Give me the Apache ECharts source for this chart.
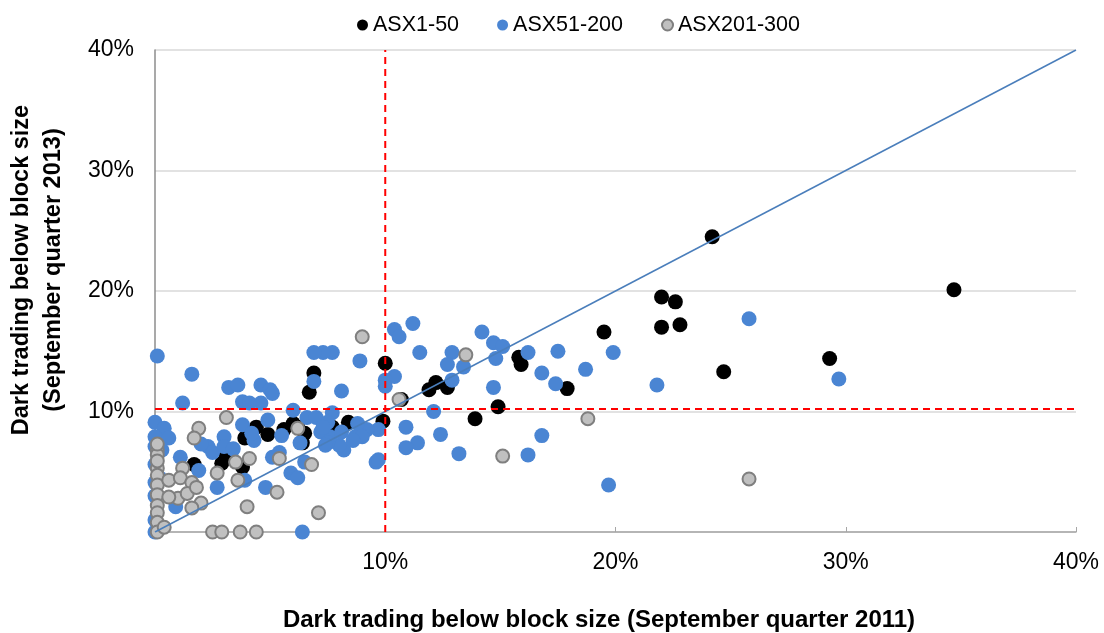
<!DOCTYPE html>
<html>
<head>
<meta charset="utf-8">
<script src="https://cdn.jsdelivr.net/npm/echarts@6/dist/echarts.min.js"></script>
<style>
    html, body { margin: 0; padding: 0; background: #fff; }
    #chart { width: 1104px; height: 633px; }
</style>
</head>
<body>
<div id="chart"></div>
<script type="text/javascript">
// [Sep qtr 2011 %, Sep qtr 2013 %]
const asx1to50 = [
    [24.2, 24.5], [34.7, 20.1], [22.0, 19.5], [22.6, 19.1], [22.0, 17.0], [22.8, 17.2],
    [19.5, 16.6], [29.3, 14.4], [24.7, 13.3], [17.9, 11.9], [15.8, 14.5], [15.9, 13.9],
    [14.9, 10.4], [13.9, 9.4], [11.9, 11.8], [12.2, 12.4], [12.7, 12.0], [10.0, 14.0],
    [9.9, 9.2], [10.7, 11.0], [8.4, 9.1], [7.7, 8.7], [6.9, 13.2], [6.7, 11.6],
    [5.6, 8.5], [4.4, 8.7], [4.9, 8.1], [6.5, 8.2], [6.4, 7.4], [6.2, 8.7],
    [1.7, 5.6], [3.1, 6.4], [3.8, 5.4], [3.9, 7.8], [2.9, 5.7], [6.0, 9.0]
];
const asx51to200 = [
    [25.8, 17.7], [17.5, 15.0], [19.9, 14.9], [18.7, 13.5], [16.8, 13.2], [17.4, 12.3],
    [21.8, 12.2], [29.7, 12.7], [16.8, 8.0], [19.7, 3.9], [16.2, 14.9], [16.2, 6.4],
    [14.2, 16.6], [14.7, 15.7], [15.1, 15.4], [14.8, 14.4], [14.7, 12.0], [12.9, 14.9],
    [12.7, 13.9], [13.4, 13.7], [12.9, 12.6], [13.2, 6.5], [12.4, 8.1], [12.1, 10.0],
    [11.4, 7.4], [10.9, 7.0], [10.9, 8.7], [9.6, 5.8], [9.7, 8.5], [10.4, 12.9],
    [10.0, 12.6], [10.0, 12.1], [10.4, 16.8], [10.6, 16.2], [11.2, 17.3], [11.5, 14.9],
    [8.9, 14.2], [7.7, 14.9], [7.3, 14.9], [6.9, 14.9], [8.1, 11.7], [6.9, 12.5],
    [7.7, 9.9], [8.2, 6.8], [8.0, 7.2], [8.7, 7.9], [9.2, 8.5], [7.6, 7.9],
    [0.1, 14.6], [1.6, 13.1], [1.2, 10.7], [3.2, 12.0], [3.6, 12.2], [3.8, 10.8],
    [4.6, 12.2], [5.0, 11.8], [5.1, 11.5], [4.6, 10.7], [4.1, 10.7], [6.0, 10.1],
    [4.9, 9.3], [6.6, 9.5], [7.0, 9.5], [7.5, 9.1], [8.8, 9.0], [8.1, 8.3],
    [7.2, 8.3], [9.0, 7.9], [7.5, 7.4], [6.3, 7.4], [5.4, 6.6], [5.1, 6.2],
    [4.3, 7.6], [9.7, 6.0], [0.0, 9.1], [0.4, 8.6], [0.0, 7.9], [0.6, 7.8],
    [0.3, 6.8], [1.1, 6.2], [2.3, 7.1], [2.5, 6.6], [3.0, 7.9], [3.0, 7.1],
    [3.8, 8.9], [2.7, 3.7], [0.9, 2.1], [1.9, 5.1], [0.0, 4.1], [0.0, 0.0],
    [0.0, 7.1], [5.9, 4.9], [6.2, 4.5], [4.8, 3.7], [3.9, 4.3], [6.4, 0.0],
    [6.5, 5.8], [7.4, 7.2], [7.3, 8.7], [8.6, 7.6], [0.0, 5.6], [0.2, 4.5],
    [0.0, 3.0], [0.0, 1.0], [2.0, 7.3], [3.4, 6.9], [4.2, 8.2], [5.5, 8.0]
];
const asx201to300 = [
    [9.0, 16.2], [13.5, 14.7], [10.6, 11.0], [15.1, 6.3], [18.8, 9.4], [25.8, 4.4],
    [6.2, 8.6], [5.4, 6.1], [6.8, 5.6], [4.1, 6.1], [3.1, 9.5], [1.9, 8.6],
    [1.7, 7.8], [0.1, 6.8], [0.1, 6.4], [3.5, 5.8], [0.1, 5.3], [0.1, 4.7],
    [0.1, 3.9], [0.1, 3.1], [0.1, 2.2], [0.1, 1.6], [0.1, 0.8], [0.1, 0.0],
    [0.4, 0.4], [0.6, 4.3], [1.0, 2.8], [1.2, 5.3], [1.1, 4.5], [0.6, 2.9],
    [1.6, 4.1], [1.4, 3.2], [1.8, 3.7], [2.0, 2.4], [1.6, 2.0], [2.7, 4.9],
    [3.6, 4.3], [4.0, 2.1], [2.5, 0.0], [2.9, 0.0], [3.7, 0.0], [4.4, 0.0],
    [5.3, 3.3], [7.1, 1.6], [0.1, 5.9], [0.1, 7.3]
];
const equalityLine = [[0, 0], [40, 40]];
const xThresholdLine = [[10, 0], [10, 40]];
const yThresholdLine = [[0, 10.2], [40, 10.2]];
const axisTicks = [0, 10, 20, 30, 40];

const font = 'Liberation Sans';
const pct = v => (v === 0 ? '' : v + '%');

const chart = echarts.init(document.getElementById('chart'));
chart.setOption({
    animation: false,
    backgroundColor: '#fff',
    textStyle: { fontFamily: font },
    legend: {
        top: 9,
        left: 352,
        icon: 'circle',
        itemWidth: 11,
        itemHeight: 11,
        itemGap: 38,
        textStyle: { fontSize: 21.5, color: '#000', fontFamily: font },
        data: ['ASX1-50', 'ASX51-200', 'ASX201-300']
    },
    grid: { left: 155, right: 28, top: 50, bottom: 101 },
    xAxis: {
        type: 'value',
        min: axisTicks[0],
        max: axisTicks[axisTicks.length - 1],
        interval: 10,
        axisLine: { lineStyle: { color: '#a6a6a6', width: 1.5 } },
        axisTick: { show: true, inside: true, length: 5, lineStyle: { color: '#a6a6a6' } },
        splitLine: { show: false },
        axisLabel: { formatter: pct, fontSize: 23, color: '#000', margin: 19, fontFamily: font }
    },
    yAxis: {
        type: 'value',
        min: axisTicks[0],
        max: axisTicks[axisTicks.length - 1],
        interval: 10,
        axisLine: { show: true, lineStyle: { color: '#8c8c8c', width: 1.5 } },
        axisTick: { show: false },
        splitLine: { lineStyle: { color: '#d9d9d9', width: 1.5 } },
        axisLabel: { formatter: pct, fontSize: 23, color: '#000', margin: 21, fontFamily: font }
    },
    graphic: [
        {
            type: 'text',
            x: 599,
            y: 620,
            style: {
                text: 'Dark trading below block size (September quarter 2011)',
                font: 'bold 24px "Liberation Sans"',
                fill: '#000',
                align: 'center',
                verticalAlign: 'middle'
            }
        },
        {
            type: 'text',
            x: 38,
            y: 270,
            rotation: Math.PI / 2,
            style: {
                text: 'Dark trading below block size\n(September quarter 2013)',
                font: 'bold 23.5px "Liberation Sans"',
                fill: '#000',
                align: 'center',
                verticalAlign: 'middle',
                lineHeight: 32
            }
        }
    ],
    series: [
        {
            name: 'ASX1-50',
            type: 'scatter',
            symbolSize: 15,
            itemStyle: { color: '#000', opacity: 1 },
            data: asx1to50
        },
        {
            name: 'ASX51-200',
            type: 'scatter',
            symbolSize: 15,
            itemStyle: { color: '#4a85d3', opacity: 1 },
            data: asx51to200
        },
        {
            name: 'ASX201-300',
            type: 'scatter',
            symbolSize: 13,
            itemStyle: { color: '#c0c0c0', borderColor: '#7f7f7f', borderWidth: 2, opacity: 1 },
            data: asx201to300
        },
        {
            type: 'line',
            data: equalityLine,
            symbol: 'none',
            z: 5,
            lineStyle: { color: '#4a7ebb', width: 1.5 }
        },
        {
            type: 'line',
            data: xThresholdLine,
            symbol: 'none',
            z: 5,
            lineStyle: { color: '#ff0000', width: 2, type: [7, 5] }
        },
        {
            type: 'line',
            data: yThresholdLine,
            symbol: 'none',
            z: 5,
            lineStyle: { color: '#ff0000', width: 2, type: [7, 5] }
        }
    ]
});
</script>
</body>
</html>
